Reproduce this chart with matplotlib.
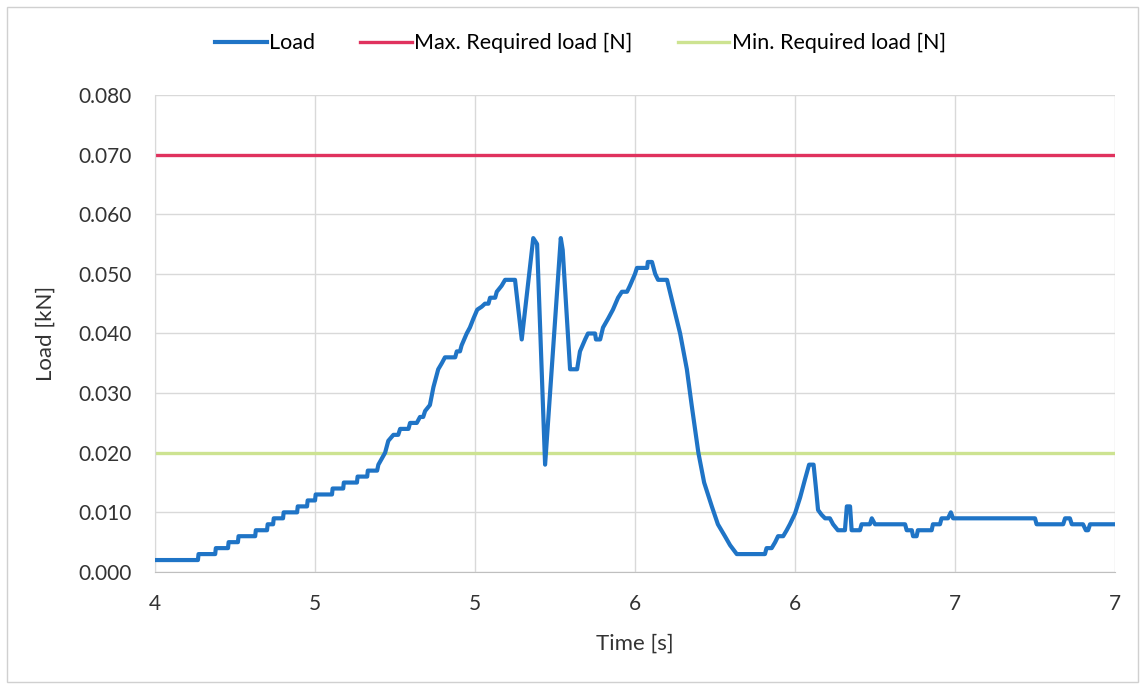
import matplotlib
matplotlib.use("Agg")
import matplotlib.pyplot as plt
from matplotlib.patches import Rectangle

# Load curve (time in s, load in kN)
time = [4.000, 4.134, 4.136, 4.188, 4.190, 4.228, 4.230, 4.259, 4.261, 4.313,
        4.315, 4.350, 4.352, 4.369, 4.371, 4.400, 4.402, 4.444, 4.446, 4.475,
        4.477, 4.500, 4.502, 4.553, 4.555, 4.588, 4.590, 4.631, 4.633, 4.663,
        4.665, 4.694, 4.698, 4.719, 4.729, 4.745, 4.760, 4.766, 4.792, 4.797,
        4.818, 4.828, 4.838, 4.844, 4.859, 4.870, 4.885, 4.896, 4.906, 4.938,
        4.943, 4.953, 4.958, 4.974, 4.984, 4.995, 5.007, 5.021, 5.031, 5.042,
        5.047, 5.063, 5.068, 5.083, 5.094, 5.125, 5.146, 5.182, 5.194, 5.219,
        5.268, 5.274, 5.297, 5.319, 5.328, 5.344, 5.353, 5.375, 5.378, 5.391,
        5.400, 5.416, 5.431, 5.447, 5.459, 5.475, 5.484, 5.500, 5.506, 5.538,
        5.540, 5.553, 5.563, 5.572, 5.600, 5.609, 5.625, 5.641, 5.662, 5.677,
        5.698, 5.716, 5.740, 5.759, 5.781, 5.797, 5.818, 5.906, 5.911, 5.927,
        5.938, 5.947, 5.963, 5.974, 5.984, 6.000, 6.016, 6.031, 6.044, 6.058,
        6.065, 6.072, 6.083, 6.094, 6.109, 6.119, 6.134, 6.156, 6.162, 6.172,
        6.177, 6.203, 6.208, 6.234, 6.240, 6.250, 6.344, 6.349, 6.365, 6.369,
        6.380, 6.384, 6.427, 6.431, 6.453, 6.458, 6.478, 6.487, 6.494, 6.750,
        6.755, 6.838, 6.844, 6.859, 6.865, 6.900, 6.909, 6.916, 6.922, 7.000]
load = [0.002, 0.002, 0.003, 0.003, 0.004, 0.004, 0.005, 0.005, 0.006, 0.006,
        0.007, 0.007, 0.008, 0.008, 0.009, 0.009, 0.010, 0.010, 0.011, 0.011,
        0.012, 0.012, 0.013, 0.013, 0.014, 0.014, 0.015, 0.015, 0.016, 0.016,
        0.017, 0.017, 0.018, 0.020, 0.022, 0.023, 0.023, 0.024, 0.024, 0.025,
        0.025, 0.026, 0.026, 0.027, 0.028, 0.031, 0.034, 0.035, 0.036, 0.036,
        0.037, 0.037, 0.038, 0.040, 0.041, 0.0425, 0.044, 0.0445, 0.045, 0.045,
        0.046, 0.046, 0.047, 0.048, 0.049, 0.049, 0.039, 0.056, 0.055, 0.018,
        0.056, 0.054, 0.034, 0.034, 0.037, 0.039, 0.040, 0.040, 0.039, 0.039,
        0.041, 0.0425, 0.044, 0.046, 0.047, 0.047, 0.048, 0.050, 0.051, 0.051,
        0.052, 0.052, 0.050, 0.049, 0.049, 0.047, 0.0435, 0.040, 0.034, 0.028,
        0.020, 0.015, 0.011, 0.008, 0.006, 0.0045, 0.003, 0.003, 0.004, 0.004,
        0.005, 0.006, 0.006, 0.007, 0.008, 0.0098, 0.0125, 0.0155, 0.018, 0.018,
        0.0143, 0.0104, 0.0096, 0.009, 0.009, 0.008, 0.007, 0.007, 0.011, 0.011,
        0.007, 0.007, 0.008, 0.008, 0.009, 0.008, 0.008, 0.007, 0.007, 0.006,
        0.006, 0.007, 0.007, 0.008, 0.008, 0.009, 0.009, 0.010, 0.009, 0.009,
        0.008, 0.008, 0.009, 0.009, 0.008, 0.008, 0.007, 0.007, 0.008, 0.008]

max_required = 0.070
min_required = 0.020

x_ticks = [4.0, 4.5, 5.0, 5.5, 6.0, 6.5, 7.0]
x_tick_labels = ['4', '5', '5', '6', '6', '7', '7']
y_ticks = [0.000, 0.010, 0.020, 0.030, 0.040, 0.050, 0.060, 0.070, 0.080]

plt.rcParams['font.family'] = ['Lato', 'DejaVu Sans']

fig = plt.figure(figsize=(11.45, 6.85), dpi=100)
ax = fig.add_axes([0.1354, 0.165, 0.8384, 0.6963])

ax.plot(time, load, color='#1f74c6', linewidth=3.0, label='Load', zorder=3)
ax.plot([time[0], time[-1]], [max_required, max_required], color='#e0325e',
        linewidth=2.4, label='Max. Required load [N]', zorder=2)
ax.plot([time[0], time[-1]], [min_required, min_required], color='#cde391',
        linewidth=2.4, label='Min. Required load [N]', zorder=2)

ax.set_xlim(4.0, 7.0)
ax.set_ylim(0, 0.080)
ax.set_xticks(x_ticks)
ax.set_xticklabels(x_tick_labels)
ax.set_yticks(y_ticks)
ax.set_yticklabels(['%.3f' % v for v in y_ticks])
ax.grid(True, color='#d9d9d9', linewidth=1.0)
ax.set_axisbelow(True)
ax.tick_params(axis='both', length=0, labelsize=15, colors='#333333')
ax.tick_params(axis='y', pad=17)
ax.tick_params(axis='x', pad=16)

for side in ['top', 'right']:
    ax.spines[side].set_visible(False)
ax.spines['left'].set_color('#d9d9d9')
ax.spines['bottom'].set_color('#bfbfbf')

ax.set_xlabel('Time [s]', fontsize=16, color='#333333', labelpad=14)
ax.set_ylabel('Load [kN]', fontsize=16, color='#333333', labelpad=16)

fig.legend(loc='center', bbox_to_anchor=(0.507, 0.937), ncol=3, frameon=False,
           fontsize=15.5, handlelength=2.4, handletextpad=0.1, columnspacing=2.1)

# faint chart border like the Excel frame
fig.patches.append(Rectangle((0.006, 0.005), 0.988, 0.985, transform=fig.transFigure,
                             fill=False, edgecolor='#d0d0d0', linewidth=1.0))

fig.savefig('out.png', dpi=100)
